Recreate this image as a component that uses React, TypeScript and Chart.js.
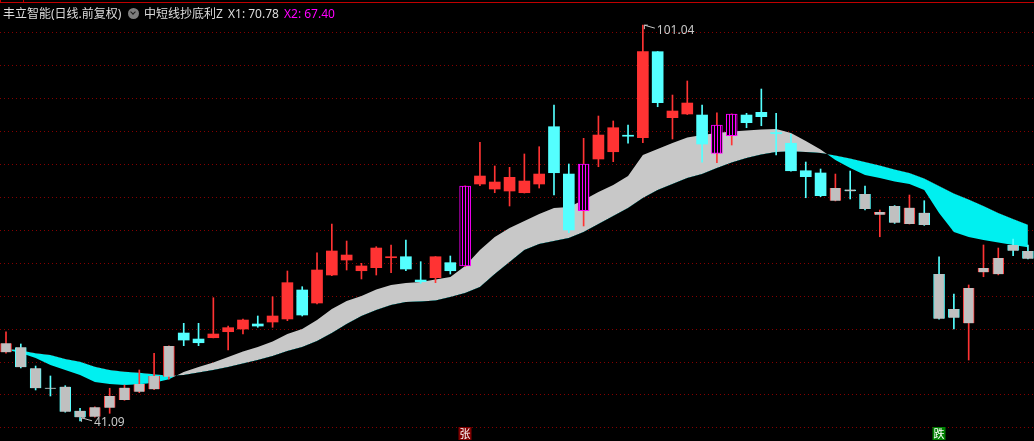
import React, { useEffect, useRef } from "react";
import { Chart, registerables } from "chart.js";
Chart.register(...registerables);

// daily OHLC
const opens = [
  51.47, 52.23, 49.05, 46.02, 46.26, 42.62, 41.71, 43.08, 44.24, 45.5,
  45.86, 47.77, 54.39, 53.48, 53.68, 54.59, 55.0, 55.76, 56.06, 56.52,
  60.91, 58.94, 63.18, 65.45, 63.83, 64.29, 65.8, 65.95, 62.42, 62.77,
  65.05, 64.55, 76.97, 76.21, 75.91, 75.65, 76.97, 85.65, 78.48, 72.92,
  80.76, 81.86, 84.32, 83.98, 97.02, 87.02, 87.58, 87.42, 81.62, 84.29,
  87.42, 87.83, 84.73, 83.14, 78.98, 78.64, 74.44, 76.14, 75.45, 72.32,
  73.64, 70.91, 72.62, 63.33, 58.03, 55.86, 63.59, 63.29, 67.73, 66.82,
];
const closes = [
  52.83, 49.2, 46.02, 45.94, 42.47, 41.62, 43.14, 44.85, 46.11, 46.67,
  47.88, 52.42, 53.33, 52.92, 54.24, 55.2, 56.36, 55.45, 56.97, 62.02,
  57.12, 63.94, 66.82, 66.21, 64.55, 67.27, 65.95, 64.09, 62.17, 65.95,
  63.83, 76.67, 78.18, 77.27, 77.98, 77.42, 78.48, 78.68, 70.0, 80.0,
  84.39, 85.5, 84.21, 97.02, 89.29, 88.03, 89.24, 83.03, 85.91, 87.58,
  86.26, 87.17, 84.61, 78.98, 78.08, 75.2, 76.36, 75.86, 73.18, 72.73,
  71.11, 73.38, 70.76, 56.56, 56.71, 61.21, 64.24, 65.76, 66.86, 65.65,
];
const highs = [
  54.59, 52.73, 49.39, 47.88, 46.41, 42.98, 43.2, 46.02, 46.52, 48.79,
  51.32, 52.45, 55.86, 55.86, 59.74, 55.45, 56.5, 56.97, 59.89, 63.79,
  61.41, 66.56, 70.91, 68.33, 64.95, 67.47, 67.73, 68.48, 65.2, 65.98,
  66.06, 76.7, 83.29, 79.7, 79.5, 81.52, 82.62, 88.94, 80.0, 83.89,
  87.27, 86.52, 85.91, 101.04, 97.05, 90.45, 92.58, 88.94, 87.77, 87.6,
  87.68, 91.36, 87.68, 84.5, 80.3, 79.24, 78.48, 78.94, 76.67, 73.03,
  73.7, 75.3, 74.44, 65.95, 60.3, 61.67, 67.73, 67.27, 68.64, 67.73,
];
const lows = [
  51.32, 49.1, 45.76, 44.85, 42.4, 41.09, 41.65, 42.23, 44.2, 45.35,
  45.8, 47.38, 52.47, 52.47, 53.65, 51.82, 54.24, 55.26, 55.26, 56.26,
  56.97, 58.8, 63.08, 63.94, 62.58, 63.18, 63.53, 63.83, 61.92, 62.02,
  63.33, 64.5, 76.71, 75.65, 73.64, 75.6, 76.36, 75.3, 69.59, 70.61,
  79.59, 80.35, 83.14, 83.23, 88.68, 83.79, 87.5, 80.26, 80.2, 82.88,
  85.5, 85.8, 81.36, 78.9, 74.89, 75.05, 74.4, 74.7, 73.03, 68.98,
  71.0, 70.9, 70.7, 56.5, 55.0, 50.3, 62.92, 63.2, 66.11, 65.6,
];

// 中短线抄底利Z band
const x1Line = [
  52.05, 51.74, 51.32, 51.06, 50.45, 50.05, 49.29, 48.79, 48.53, 48.38,
  48.14, 47.92, 48.03, 48.41, 48.79, 49.24, 49.77, 50.3, 50.91, 51.67,
  52.27, 53.18, 54.39, 55.76, 56.97, 57.88, 58.64, 59.09, 59.17, 59.32,
  59.85, 60.45, 61.36, 63.33, 65.15, 66.97, 67.88, 68.33, 68.79, 69.7,
  70.91, 72.12, 73.33, 74.85, 76.06, 76.97, 77.88, 78.48, 79.39, 80.23,
  80.91, 81.44, 81.82, 81.89, 81.82, 81.67, 81.29, 80.83, 80.3, 79.77,
  79.17, 78.64, 77.8, 76.67, 75.53, 74.62, 73.64, 72.58, 71.67, 70.78,
];
const x2Line = [
  51.89, 51.36, 50.61, 49.55, 48.79, 48.03, 46.97, 46.67, 46.52, 46.62,
  46.86, 47.38, 48.48, 49.24, 49.92, 50.76, 51.59, 52.27, 53.11, 54.24,
  55.0, 56.36, 58.03, 59.24, 60.0, 60.98, 61.67, 61.97, 62.12, 62.5,
  62.88, 64.55, 66.97, 68.94, 70.3, 71.36, 72.42, 73.33, 73.48, 74.55,
  75.76, 76.82, 78.18, 81.36, 82.27, 83.18, 84.02, 84.39, 84.7, 84.92,
  85.08, 85.23, 85.3, 84.7, 83.48, 82.2, 80.61, 79.39, 78.33, 77.88,
  77.35, 76.97, 76.06, 72.58, 69.7, 68.94, 68.48, 68.11, 67.73, 67.4,
];

const hatchedBars = [31, 39, 48, 49];
const riseSignal = 31; // 张
const fallSignal = 63; // 跌
const gridLevels = [40, 45, 50, 55, 60, 65, 70, 75, 80, 85, 90, 95, 100];

const RED = "#ff3333";
const CYAN = "#54ffff";
const MAGENTA = "#ff00ff";
const GRAY_BODY = "#c0c0c0";
const BAND_UP = "#c8c8c8";
const BAND_DOWN = "#00f0f0";
const LABEL = "#c8c8c8";

const isUp = (i: number) => closes[i] >= opens[i];
const isWeak = (i: number) => x2Line[i] < x1Line[i];

const markers = {
  id: "markers",
  afterDatasetsDraw(chart: any) {
    const { ctx, scales } = chart;
    const x = scales.x;
    const y = scales.y;
    ctx.save();
    ctx.strokeStyle = LABEL;
    ctx.fillStyle = LABEL;
    ctx.lineWidth = 1;
    ctx.font = "12px 'Noto Sans', 'DejaVu Sans', sans-serif";
    ctx.textBaseline = "middle";

    const flag = (px: number, py: number, text: string, dy: number) => {
      ctx.beginPath();
      ctx.moveTo(px + 1.5, py + 4);
      ctx.lineTo(px + 1.5, py);
      ctx.lineTo(px + 5, py);
      ctx.moveTo(px + 1.5, py);
      ctx.lineTo(px + 12, py + 3);
      ctx.stroke();
      ctx.fillText(text, px + 14, py + dy);
    };

    const hi = highs.indexOf(Math.max(...highs));
    flag(x.getPixelForValue(hi), y.getPixelForValue(highs[hi]), highs[hi].toFixed(2), 5.5);
    const lo = lows.indexOf(Math.min(...lows));
    flag(x.getPixelForValue(lo), y.getPixelForValue(lows[lo]) - 3, lows[lo].toFixed(2), 4.5);

    const badge = (i: number, text: string, bg: string) => {
      const cx = x.getPixelForValue(i);
      ctx.fillStyle = bg;
      ctx.fillRect(Math.round(cx) - 6.5, 427, 13, 13);
      ctx.fillStyle = "#ffffff";
      ctx.font = "11px 'Noto Sans CJK SC', sans-serif";
      ctx.textAlign = "center";
      ctx.fillText(text, Math.round(cx), 434);
      ctx.textAlign = "left";
    };
    badge(riseSignal, "张", "#800000");
    badge(fallSignal, "跌", "#008000");
    ctx.restore();
  },
};

export default function App() {
  const canvasRef = useRef<HTMLCanvasElement>(null);

  useEffect(() => {
    if (!canvasRef.current) return;
    const tile = document.createElement("canvas");
    tile.width = 3;
    tile.height = 1;
    const tctx = tile.getContext("2d")!;
    tctx.fillStyle = "#000000";
    tctx.fillRect(0, 0, 3, 1);
    tctx.fillStyle = MAGENTA;
    tctx.fillRect(0, 0, 1, 1);
    const hatch = canvasRef.current.getContext("2d")!.createPattern(tile, "repeat");

    const idx = opens.map((_, i) => i);

    const chart = new Chart(canvasRef.current, {
      type: "bar",
      data: {
        datasets: [
          {
            type: "line",
            label: "X1",
            data: idx.map((i) => ({ x: i, y: x1Line[i] })),
            borderWidth: 0,
            borderColor: "transparent",
            pointRadius: 0,
            fill: false,
            order: 4,
          },
          {
            type: "line",
            label: "X2",
            data: idx.map((i) => ({ x: i, y: x2Line[i] })),
            borderWidth: 0,
            borderColor: "transparent",
            backgroundColor: BAND_UP,
            pointRadius: 0,
            fill: { target: "-1", above: BAND_UP, below: BAND_DOWN },
            order: 3,
          },
          {
            type: "bar",
            label: "wick",
            data: idx.map((i) => ({ x: i, y: [lows[i], highs[i]] })),
            backgroundColor: (c: any) =>
              hatchedBars.includes(c.dataIndex) || isUp(c.dataIndex) ? RED : CYAN,
            barThickness: 1,
            maxBarThickness: 1,
            grouped: false,
            order: 2,
          },
          {
            type: "bar",
            label: "body",
            data: idx.map((i) => ({ x: i, y: [opens[i], closes[i]] })),
            backgroundColor: (c: any) => {
              const i = c.dataIndex;
              if (hatchedBars.includes(i)) return hatch;
              if (isWeak(i)) return GRAY_BODY;
              return isUp(i) ? RED : CYAN;
            },
            borderColor: (c: any) => {
              const i = c.dataIndex;
              if (hatchedBars.includes(i)) return MAGENTA;
              return isUp(i) ? RED : CYAN;
            },
            borderWidth: (c: any) => {
              const i = c.dataIndex;
              if (hatchedBars.includes(i)) return 1;
              if (isWeak(i)) return { left: 1, right: 1, top: 0, bottom: 0 };
              return 0;
            },
            borderSkipped: false,
            barThickness: 11,
            maxBarThickness: 11,
            minBarLength: 1,
            grouped: false,
            order: 1,
          },
        ] as any,
      },
      options: {
        animation: false,
        responsive: false,
        events: [],
        layout: { padding: 0 },
        plugins: {
          legend: { display: false },
          tooltip: { enabled: false },
        },
        scales: {
          x: { type: "linear", min: -0.405, max: 69.41, offset: false, display: false },
          y: {
            type: "linear",
            min: 38.03,
            max: 104.85,
            ticks: { display: false },
            grid: { color: "#850000", lineWidth: 1, drawTicks: false },
            border: { display: false, dash: [1, 3] },
            afterBuildTicks: (s: any) => {
              s.ticks = gridLevels.map((v) => ({ value: v }));
            },
          },
        },
      } as any,
      plugins: [markers],
    });

    return () => {
      chart.destroy();
    };
  }, []);

  const text: React.CSSProperties = {
    position: "absolute",
    top: 8,
    fontSize: 12,
    lineHeight: "12px",
    whiteSpace: "nowrap",
    fontFamily: "'Noto Sans', 'Noto Sans CJK SC', sans-serif",
    color: "#dddddd",
  };

  return (
    <div
      style={{
        position: "fixed",
        left: 0,
        top: 0,
        width: 1034,
        height: 441,
        background: "#000000",
        overflow: "hidden",
      }}
    >
      <canvas ref={canvasRef} width={1034} height={441} style={{ display: "block" }} />
      <div style={{ position: "absolute", left: 0, top: 2, width: 1034, height: 1, background: "#c00000" }} />
      <div style={{ position: "absolute", left: 0, top: 0, width: 1, height: 3, background: "#c00000" }} />
      <div style={{ position: "absolute", left: 23, top: 0, width: 1, height: 3, background: "#c00000" }} />
      <span style={{ ...text, left: 3 }}>丰立智能(日线.前复权)</span>
      <span
        style={{
          position: "absolute",
          left: 128,
          top: 8,
          width: 11,
          height: 11,
          borderRadius: "50%",
          background: "#7d7d7d",
        }}
      >
        <span
          style={{
            position: "absolute",
            left: 3.2,
            top: 2.2,
            width: 3,
            height: 3,
            borderRight: "1.5px solid #1a1a1a",
            borderBottom: "1.5px solid #1a1a1a",
            transform: "rotate(45deg)",
          }}
        />
      </span>
      <span style={{ ...text, left: 144 }}>中短线抄底利Z</span>
      <span style={{ ...text, left: 228 }}>X1: {x1Line[x1Line.length - 1].toFixed(2)}</span>
      <span style={{ ...text, left: 284, color: MAGENTA }}>X2: {x2Line[x2Line.length - 1].toFixed(2)}</span>
    </div>
  );
}
